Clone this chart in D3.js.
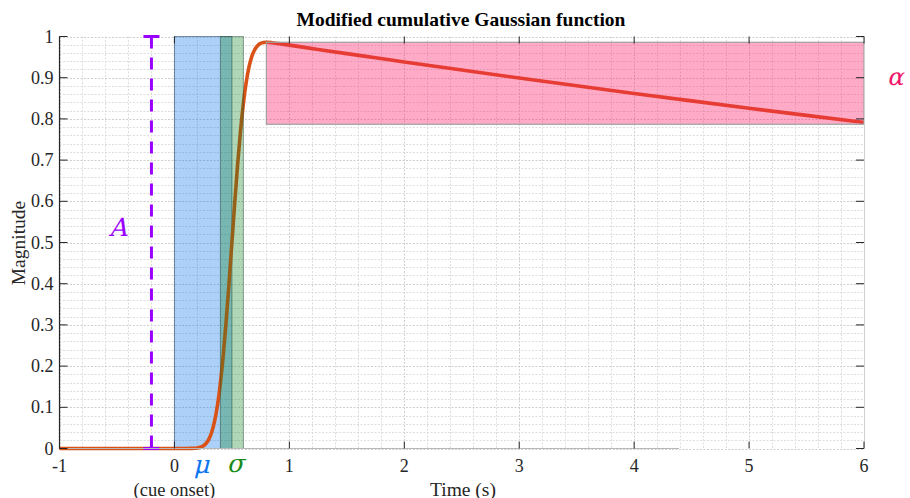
<!DOCTYPE html>
<html><head><meta charset="utf-8">
<script src="https://cdn.jsdelivr.net/npm/d3@7"></script>
<style>body{margin:0;background:#fff}svg{display:block}</style>
</head><body>
<svg id="c" width="910" height="498"></svg>
<script>
// ---- data ----
const curveT = [-1,-0.5,0,0.1,0.15,0.2,0.225,0.25,0.275,0.3,0.325,0.35,0.375,0.4,0.425,0.45,0.475,0.5,0.525,0.55,0.575,0.6,0.625,0.65,0.675,0.7,0.725,0.75,0.775,0.8,0.85,0.9,1.0,1.25,1.5,1.75,2,2.5,3,3.5,4,4.5,5,5.5,6];
const curveY = [0,0,0,0.00003,0.0002,0.00135,0.003,0.0062,0.0122,0.0228,0.0401,0.0668,0.1056,0.1587,0.2266,0.3085,0.4013,0.4990,0.5981,0.6900,0.7709,0.8377,0.8897,0.9273,0.9528,0.9689,0.9784,0.9833,0.9854,0.9860,0.9850,0.9831,0.9790,0.9686,0.9584,0.9483,0.9382,0.9185,0.8992,0.8803,0.8618,0.8437,0.8259,0.8086,0.7916];
const muBand = [0, 0.5];        // blue
const sigmaBand = [0.4, 0.6];   // green
const alphaBox = {t:[0.8, 6], y:[0.787, 0.986]};
const ampT = -0.2, ampY = [0, 1];
const xTicks = [-1,0,1,2,3,4,5,6];
const yTicks = [0,0.1,0.2,0.3,0.4,0.5,0.6,0.7,0.8,0.9,1];
const labels = {title:"Modified cumulative Gaussian function", x:"Time (s)", y:"Magnitude", onset:"(cue onset)"};

// ---- layout ----
const svg = d3.select("#c");
const L = 59.5, R = 864, T = 36.5, B = 448.5;
const x = d3.scaleLinear().domain([-1,6]).range([L,R]);
const y = d3.scaleLinear().domain([0,1]).range([B,T]);
const serif = "Liberation Serif, Times New Roman, serif";

// grid
const g = svg.append("g");
const xMinor = d3.range(-1, 6.0001, 0.2).map(v=>+v.toFixed(2));
const yMinor = d3.range(0, 1.0001, 0.02).map(v=>+v.toFixed(2));
const isMajX = v => Math.abs(v-Math.round(v))<1e-6;
const isMajY = v => Math.abs(v*10-Math.round(v*10))<1e-6;
g.selectAll(".vx").data(xMinor).join("line")
  .attr("x1",d=>Math.round(x(d))+0.5).attr("x2",d=>Math.round(x(d))+0.5).attr("y1",T).attr("y2",B)
  .attr("stroke",d=>isMajX(d)?"#cfcfcf":"#dedede").attr("stroke-width",1).attr("stroke-dasharray","2,1.5");
g.selectAll(".hy").data(yMinor).join("line")
  .attr("y1",d=>Math.round(y(d))+0.5).attr("y2",d=>Math.round(y(d))+0.5).attr("x1",L).attr("x2",R)
  .attr("stroke",d=>isMajY(d)?"#cfcfcf":"#dedede").attr("stroke-width",1).attr("stroke-dasharray","2,1.5");

// blue band (under curve)
svg.append("rect").attr("x",x(muBand[0])).attr("width",x(muBand[1])-x(muBand[0]))
  .attr("y",T).attr("height",B-T)
  .attr("fill","rgba(0,108,233,0.32)").attr("stroke","rgba(40,60,90,0.55)").attr("stroke-width",1);

// curve
const line = d3.line().x((d,i)=>x(curveT[i])).y(d=>y(d)).curve(d3.curveMonotoneX);
svg.append("path").datum(curveY).attr("d",line).attr("fill","none")
  .attr("stroke","#d95319").attr("stroke-width",3.6).attr("stroke-linejoin","round");

// green band (over curve)
svg.append("rect").attr("x",x(sigmaBand[0])).attr("width",x(sigmaBand[1])-x(sigmaBand[0]))
  .attr("y",T).attr("height",B-T)
  .attr("fill","rgba(5,127,27,0.32)").attr("stroke","rgba(40,70,50,0.45)").attr("stroke-width",1);

// alpha box
svg.append("rect").attr("x",x(alphaBox.t[0])).attr("width",x(alphaBox.t[1])-x(alphaBox.t[0]))
  .attr("y",y(alphaBox.y[1])).attr("height",y(alphaBox.y[0])-y(alphaBox.y[1]))
  .attr("fill","rgba(255,20,100,0.36)").attr("stroke","#a0a0a0").attr("stroke-width",1.2);

// amplitude bar
const purple = "#9a00ff";
svg.append("line").attr("x1",x(ampT)).attr("x2",x(ampT)).attr("y1",y(ampY[1])).attr("y2",y(ampY[0]))
  .attr("stroke",purple).attr("stroke-width",3).attr("stroke-dasharray","12,9");
[ampY[0],ampY[1]].forEach(v=>{
  svg.append("line").attr("x1",x(ampT)-8).attr("x2",x(ampT)+8).attr("y1",y(v)).attr("y2",y(v))
    .attr("stroke",purple).attr("stroke-width",3);
});

// axes frame
svg.append("line").attr("x1",R+0.5).attr("x2",R+0.5).attr("y1",T).attr("y2",B).attr("stroke","#d0d0d0");
svg.append("line").attr("x1",L).attr("x2",679).attr("y1",B).attr("y2",B).attr("stroke","#b8b8b8");
svg.append("line").attr("x1",L).attr("x2",L).attr("y1",T).attr("y2",B+0.5).attr("stroke","#262626").attr("stroke-width",1.2);

// ticks
const tk = svg.append("g").attr("stroke","#262626").attr("stroke-width",1);
xTicks.forEach(v=>{
  tk.append("line").attr("x1",x(v)).attr("x2",x(v)).attr("y1",B).attr("y2",B-7);
  tk.append("line").attr("x1",x(v)).attr("x2",x(v)).attr("y1",T).attr("y2",T+7);
});
yTicks.forEach(v=>{
  tk.append("line").attr("x1",L).attr("x2",L+8).attr("y1",y(v)).attr("y2",y(v));
  tk.append("line").attr("x1",R).attr("x2",R-8).attr("y1",y(v)).attr("y2",y(v));
});

// tick labels
const tl = svg.append("g").style("font-family",serif).style("font-size","18px").attr("fill","#262626");
xTicks.forEach(v=>{
  tl.append("text").attr("x",x(v)).attr("y",471.5).attr("text-anchor","middle").text(v<0?"-"+Math.abs(v):v);
});
yTicks.forEach(v=>{
  tl.append("text").attr("x",L-6).attr("y",y(v)+6).attr("text-anchor","end").text(v===0?"0":(v===1?"1":v.toFixed(1)));
});

// axis labels
svg.append("text").attr("x",463).attr("y",495.5).attr("text-anchor","middle")
  .style("font-family",serif).style("font-size","19.5px").attr("fill","#262626").text(labels.x);
svg.append("text").attr("x",x(0)).attr("y",495.5).attr("text-anchor","middle")
  .style("font-family",serif).style("font-size","18.5px").attr("fill","#262626").text(labels.onset);
svg.append("text").attr("transform","translate(25,243) rotate(-90)").attr("text-anchor","middle")
  .style("font-family",serif).style("font-size","19.5px").attr("fill","#262626").text(labels.y);
svg.append("text").attr("x",461).attr("y",26).attr("text-anchor","middle")
  .style("font-family",serif).style("font-size","19.5px").style("font-weight","bold").attr("fill","#000").text(labels.title);

// parameter symbols (serif, slanted)
const sym = (t,xx,yy,col,sz)=>svg.append("text")
  .attr("transform",`translate(${xx},${yy}) skewX(-14)`).attr("text-anchor","middle")
  .style("font-family","DejaVu Serif, Liberation Serif, serif").style("font-size",sz+"px").attr("fill",col).text(t);
sym("\u03BC", x(0.235), 473, "#0a74f0", 25);
sym("\u03C3", x(0.53), 472, "#178a17", 25);
sym("\u03B1", 895, 85, "#f0166a", 24);
sym("A", 118, 236, purple, 25);
</script>
</body></html>
